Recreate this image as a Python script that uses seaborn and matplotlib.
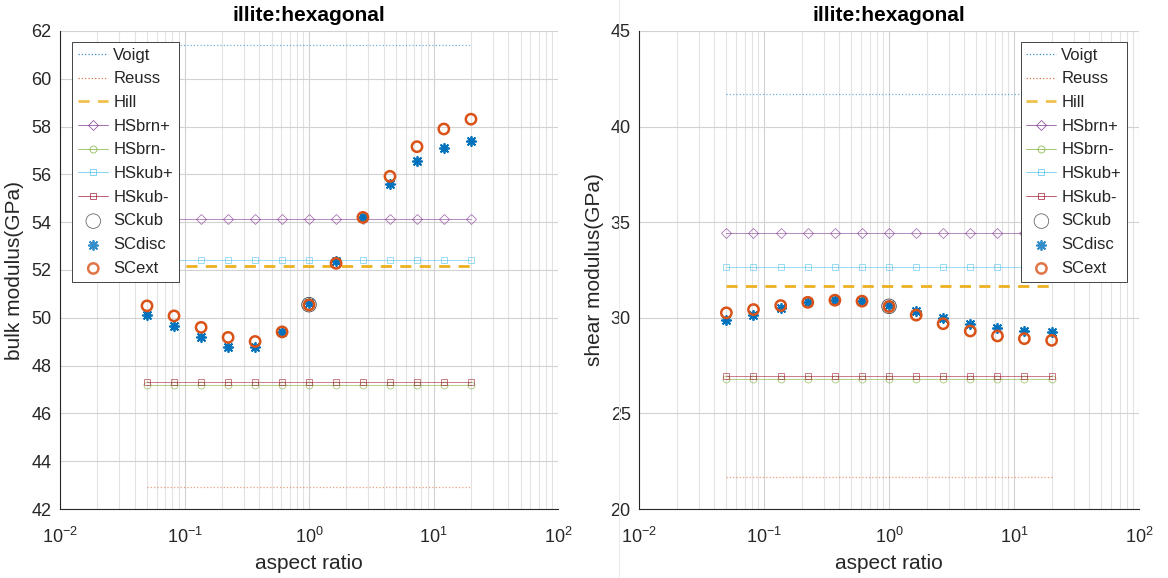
import numpy as np
import pandas as pd
import matplotlib
matplotlib.use("Agg")
import matplotlib.pyplot as plt
from matplotlib.lines import Line2D
from matplotlib.ticker import LogLocator, FixedLocator, NullFormatter, LogFormatterMathtext
import seaborn as sns

# ---------------- data ----------------
aspect_ratio = [0.05, 0.0824, 0.136, 0.224, 0.369, 0.608, 1.0, 1.65, 2.71, 4.47, 7.37, 12.1, 20.0]
sckub_aspect = [1.0]

# bulk modulus (GPa)
K_voigt = 61.4
K_reuss = 42.9
K_hill = 52.15
K_hsbrn_plus = 54.13
K_hsbrn_minus = 47.19
K_hskub_plus = 52.42
K_hskub_minus = 47.33
K_sckub = [50.55]
K_scdisc = [50.11, 49.66, 49.18, 48.79, 48.79, 49.41, 50.64, 52.39, 54.20, 55.60, 56.55, 57.11, 57.39]
K_scext = [50.50, 50.08, 49.60, 49.18, 49.01, 49.41, 50.54, 52.28, 54.20, 55.92, 57.16, 57.90, 58.31]

# shear modulus (GPa)
G_voigt = 41.68
G_reuss = 21.65
G_hill = 31.66
G_hsbrn_plus = 34.45
G_hsbrn_minus = 26.80
G_hskub_plus = 32.67
G_hskub_minus = 26.97
G_sckub = [30.60]
G_scdisc = [29.86, 30.14, 30.49, 30.83, 30.95, 30.90, 30.69, 30.38, 30.00, 29.69, 29.45, 29.31, 29.27]
G_scext = [30.26, 30.43, 30.64, 30.81, 30.92, 30.87, 30.59, 30.14, 29.69, 29.31, 29.05, 28.91, 28.82]

series_labels = ["Voigt", "Reuss", "Hill", "HSbrn+", "HSbrn-", "HSkub+", "HSkub-", "SCkub", "SCdisc", "SCext"]
title = "illite:hexagonal"
xlabel = "aspect ratio"
ylabels = ["bulk modulus(GPa)", "shear modulus(GPa)"]
yticks_left = [42, 44, 46, 48, 50, 52, 54, 56, 58, 60, 62]
yticks_right = [20, 25, 30, 35, 40, 45]

# ---------------- style ----------------
sns.set_theme(style="white")
plt.rcParams["font.family"] = ["Liberation Sans", "DejaVu Sans"]
plt.rcParams["mathtext.fontset"] = "custom"
plt.rcParams["mathtext.rm"] = "Liberation Sans"
plt.rcParams["mathtext.it"] = "Liberation Sans"
plt.rcParams["mathtext.bf"] = "Liberation Sans:bold"

C_BLUE = "#0072BD"
C_ORANGE = "#D95319"
C_YELLOW = "#EDB120"
C_PURPLE = "#7E2F8E"
C_GREEN = "#77AC30"
C_CYAN = "#4DBEEE"
C_RED = "#A2142F"
DARK = "#262626"

fig = plt.figure(figsize=(11.68, 5.78), dpi=100)
ax_l = fig.add_axes([60 / 1168, 1 - 509 / 578, 498 / 1168, 478 / 578])
ax_r = fig.add_axes([639 / 1168, 1 - 509 / 578, 500 / 1168, 478 / 578])

# faint separator between the two panels
fig.add_artist(Line2D([618.5 / 1168, 618.5 / 1168], [0, 1], color="#ececec", lw=0.8,
                      transform=fig.transFigure))


def draw_panel(ax, voigt, reuss, hill, hsbp, hsbm, hskp, hskm, sckub, scdisc, scext,
               ylabel, yticks, legend_anchor):
    n = len(aspect_ratio)

    def const(v):
        return pd.DataFrame({"x": aspect_ratio, "y": [v] * n})

    thin = 0.6
    sns.lineplot(data=const(voigt), x="x", y="y", ax=ax, color=C_BLUE, lw=0.9, ls=":",
                 alpha=0.55, label=series_labels[0])
    sns.lineplot(data=const(reuss), x="x", y="y", ax=ax, color=C_ORANGE, lw=0.9, ls=":",
                 alpha=0.55, label=series_labels[1])
    sns.lineplot(data=const(hill), x="x", y="y", ax=ax, color=C_YELLOW, lw=2.0,
                 label=series_labels[2]).lines[-1].set_dashes((4, 3))
    sns.lineplot(data=const(hsbp), x="x", y="y", ax=ax, color=C_PURPLE, lw=thin, alpha=0.65,
                 marker="D", markersize=5, markerfacecolor="none", markeredgecolor=C_PURPLE,
                 markeredgewidth=0.6, label=series_labels[3])
    sns.lineplot(data=const(hsbm), x="x", y="y", ax=ax, color=C_GREEN, lw=thin, alpha=0.65,
                 marker="o", markersize=5, markerfacecolor="none", markeredgecolor=C_GREEN,
                 markeredgewidth=0.6, label=series_labels[4])
    sns.lineplot(data=const(hskp), x="x", y="y", ax=ax, color=C_CYAN, lw=thin, alpha=0.65,
                 marker="s", markersize=4.5, markerfacecolor="none", markeredgecolor=C_CYAN,
                 markeredgewidth=0.6, label=series_labels[5])
    sns.lineplot(data=const(hskm), x="x", y="y", ax=ax, color=C_RED, lw=thin, alpha=0.65,
                 marker="s", markersize=4.5, markerfacecolor="none", markeredgecolor=C_RED,
                 markeredgewidth=0.6, label=series_labels[6])
    sns.scatterplot(x=sckub_aspect, y=sckub, ax=ax, marker="o", s=110, facecolors="none",
                    edgecolors="#444444", linewidths=0.6, label=series_labels[7], zorder=5)
    sns.scatterplot(x=aspect_ratio, y=scdisc, ax=ax, marker=(8, 2, 0), s=45,
                    color=C_BLUE, edgecolors=C_BLUE, linewidths=1.3,
                    label=series_labels[8], zorder=6)
    sns.scatterplot(x=aspect_ratio, y=scext, ax=ax, marker="o", s=55, facecolors="none",
                    edgecolors=C_ORANGE, linewidths=1.8, label=series_labels[9], zorder=7)

    ax.set_xscale("log")
    ax.set_xlim(1e-2, 1e2)
    ax.set_ylim(yticks[0], yticks[-1])
    ax.xaxis.set_major_locator(FixedLocator([1e-2, 1e-1, 1e0, 1e1, 1e2]))
    ax.xaxis.set_major_formatter(LogFormatterMathtext())
    ax.xaxis.set_minor_locator(LogLocator(base=10, subs=np.arange(2, 10), numticks=20))
    ax.xaxis.set_minor_formatter(NullFormatter())
    ax.set_yticks(yticks)

    ax.grid(which="major", axis="both", color="#d2d2d2", lw=0.8, zorder=0)
    ax.grid(which="minor", axis="x", color="#e2e2e2", lw=0.8, zorder=0)
    ax.set_axisbelow(True)

    for s in ["top", "right"]:
        ax.spines[s].set_visible(False)
    for s in ["left", "bottom"]:
        ax.spines[s].set_color(DARK)
        ax.spines[s].set_linewidth(0.8)
    ax.tick_params(which="major", direction="in", length=4, width=0.6, colors=DARK,
                   labelsize=13, pad=6, top=False, right=False)
    ax.tick_params(which="minor", direction="in", length=2, width=0.5, colors=DARK,
                   top=False, right=False)
    ax.tick_params(axis="x", which="major", pad=13)

    ax.set_title(title, fontsize=15, fontweight="bold", color="black", pad=7)
    ax.set_xlabel(xlabel, fontsize=15, color=DARK, labelpad=5)
    ax.set_ylabel(ylabel, fontsize=15, color=DARK, labelpad=5)

    leg = ax.legend(loc=legend_anchor[0], bbox_to_anchor=legend_anchor[1], fontsize=12,
                    frameon=True, fancybox=False, framealpha=1, edgecolor=DARK,
                    handlelength=1.8, handletextpad=0.3, labelspacing=0.52,
                    borderpad=0.35, borderaxespad=0.0, numpoints=1, scatterpoints=1)
    leg.get_frame().set_linewidth(0.6)
    for h in leg.legend_handles:
        try:
            h.set_alpha(0.8)
        except Exception:
            pass


draw_panel(ax_l, K_voigt, K_reuss, K_hill, K_hsbrn_plus, K_hsbrn_minus, K_hskub_plus,
           K_hskub_minus, K_sckub, K_scdisc, K_scext, ylabels[0], yticks_left,
           ("upper left", (0.025, 0.977)))
draw_panel(ax_r, G_voigt, G_reuss, G_hill, G_hsbrn_plus, G_hsbrn_minus, G_hskub_plus,
           G_hskub_minus, G_sckub, G_scdisc, G_scext, ylabels[1], yticks_right,
           ("upper right", (0.976, 0.977)))

fig.savefig("out.png", dpi=100)
